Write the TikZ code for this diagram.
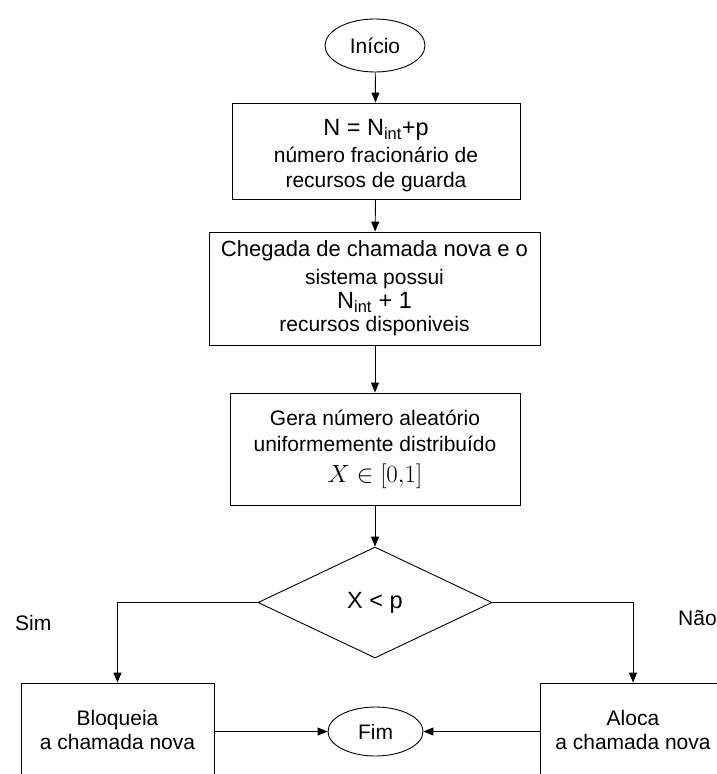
\documentclass[tikz,border=0pt]{standalone}
\usepackage{fontspec}
\setmainfont{Liberation Sans}
\usetikzlibrary{shapes.geometric,arrows.meta}
\tikzset{
  base/.style={draw=black, line width=0.9pt, inner sep=0pt, align=center,
    font=\fontsize{21}{25}\selectfont},
  procbox/.style={base, rectangle},
  termbox/.style={base, ellipse},
  decbox/.style={base, diamond},
  conn/.style={line width=0.9pt, -{Triangle[length=10pt,width=8pt]}},
  lbl/.style={inner sep=0pt, font=\fontsize{21}{25}\selectfont}
}
\newcommand{\bigtxt}{\fontsize{23.5}{25}\selectfont}
\begin{document}
\begin{tikzpicture}[x=1pt,y=-1pt]
\clip (0,0) rectangle (717,774);
\useasboundingbox (0,0) rectangle (717,774);
\node[termbox, minimum width=100pt, minimum height=53pt] (ini) at (375,45.5) {Início};
\node[procbox, minimum width=288pt, minimum height=96pt] (b1) at (376,151)
  {\rule{0pt}{25pt}{\bigtxt N = N\textsubscript{int}+p}\\[2pt]
   número fracionário de\\[0pt]
   recursos de guarda};
\node[procbox, minimum width=331pt, minimum height=113pt] (b2) at (374.5,288.5)
  {{\fontsize{22}{25}\selectfont Chegada de chamada nova e o}\\[3pt]
   sistema possui\\[-1pt]
   {\bigtxt N\textsubscript{int} + 1}\\[-2pt]
   recursos disponiveis};
\node[procbox, minimum width=290pt, minimum height=112pt] (b3) at (375,449)
  {Gera número aleatório\\[1pt]
   uniformemente distribuído\\[6pt]
   {\fontsize{24}{25}\selectfont $X \in [0{,}1]$}};
\node[decbox, minimum width=234pt, minimum height=111pt, aspect=2.1] (d) at (375,602.5) {\bigtxt X < p};
\node[procbox, minimum width=193pt, minimum height=94pt] (bl) at (117.5,730)
  {Bloqueia\\[-1pt] a chamada nova};
\node[procbox, minimum width=193pt, minimum height=94pt] (br) at (636.5,730)
  {\hspace*{-7pt}Aloca\\[-1pt] \hspace*{-7pt}a chamada nova};
\node[termbox, minimum width=95pt, minimum height=49pt] (fim) at (375.5,731.5) {Fim};
\node[lbl, anchor=west] (sim) at (15,623) {Sim};
\node[lbl, anchor=west] (nao) at (678,618) {Não};
\coordinate (cl) at (117.5,602.5);
\coordinate (cr) at (633,602.5);
\draw[conn] (ini) -- (b1);
\draw[conn] (b1) -- (b2);
\draw[conn] (b2.south -| b3.north) -- (b3);
\draw[conn] (b3) -- (d);
\draw[conn] (d.west) -- (cl) -- (cl |- bl.north);
\draw[conn] (d.east) -- (cr) -- (cr |- br.north);
\draw[conn] (bl.east |- fim) -- (fim);
\draw[conn] (br.west |- fim) -- (fim);
\end{tikzpicture}
\end{document}
